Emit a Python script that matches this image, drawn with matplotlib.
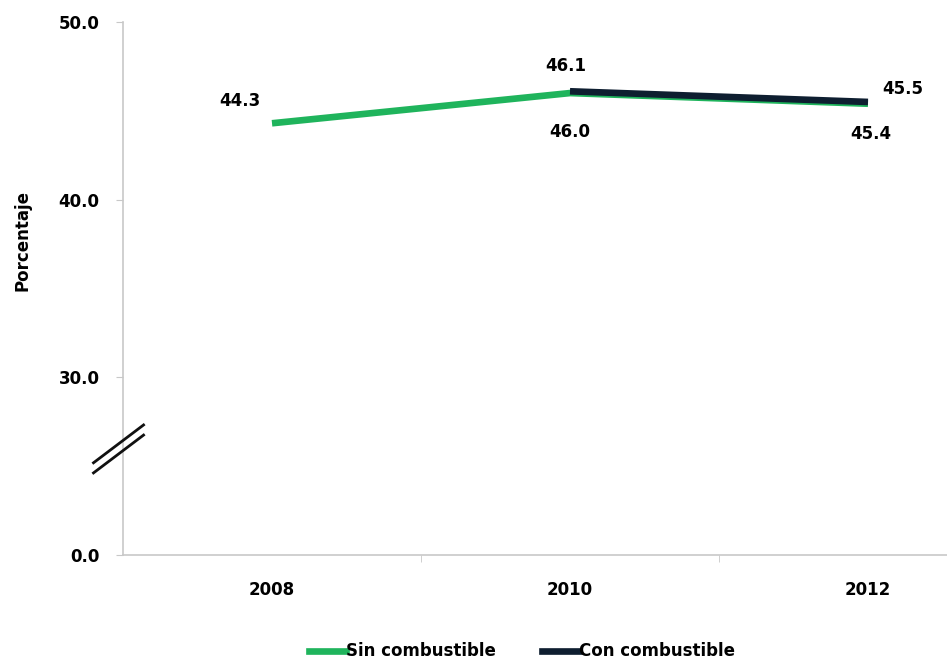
import matplotlib
matplotlib.use("Agg")
import matplotlib.pyplot as plt
from matplotlib.lines import Line2D

# Porcentaje por año, con y sin combustible
years = ["2008", "2010", "2012"]
sin_comb = [44.3, 46.0, 45.4]
con_years = ["2010", "2012"]
con_comb = [46.1, 45.5]

# El eje vertical está cortado: "0.0" se dibuja en la posición de 20
ytick_vals = [20, 30, 40, 50]
ytick_labels = ["0.0", "30.0", "40.0", "50.0"]

green = "#1fb45c"
navy = "#0e1e30"
axis_gray = "#c8c8c8"
fs = 12

plt.rcParams["font.family"] = "DejaVu Sans"
plt.rcParams["font.weight"] = "bold"

fig = plt.figure(figsize=(9.47, 6.6), dpi=100)
ax = fig.add_axes([123 / 947, 1 - 555 / 660, (1017 - 123) / 947, (555 - 22) / 660])

xs = list(range(len(years)))
x_con = [years.index(y) for y in con_years]

ax.plot(xs, sin_comb, color=green, lw=4.8, solid_capstyle="butt", zorder=3)
ax.plot(x_con, con_comb, color=navy, lw=4.8, solid_capstyle="butt", zorder=4)

ax.set_xlim(-0.5, 2.5)
ax.set_ylim(20, 50)

ax.set_xticks(xs)
ax.set_xticklabels(years, fontsize=fs, fontweight="bold")
ax.set_xticks([0.5, 1.5], minor=True)
ax.tick_params(axis="x", which="major", length=0, pad=19)
ax.tick_params(axis="x", which="minor", length=5, color=axis_gray, direction="out")

ax.set_yticks(ytick_vals)
ax.set_yticklabels(ytick_labels, fontsize=fs, fontweight="bold")
ax.tick_params(axis="y", length=5, color=axis_gray, direction="out", pad=12)

for side in ["top", "right"]:
    ax.spines[side].set_visible(False)
for side in ["left", "bottom"]:
    ax.spines[side].set_color(axis_gray)
    ax.spines[side].set_linewidth(1.2)

ax.set_ylabel("Porcentaje", fontsize=fs, fontweight="bold")
ax.yaxis.set_label_coords(-0.102, 0.59)

# Etiquetas de valores
def label(x, y, dx, dy):
    ax.annotate(f"{y:.1f}", (x, y), xytext=(dx, dy), textcoords="offset points",
                ha="center", va="center", fontsize=fs, fontweight="bold")

label(0, sin_comb[0], -23, 16)
label(1, sin_comb[1], 0, -28)
label(2, sin_comb[2], 2, -22)
label(x_con[0], con_comb[0], -3, 18)
label(x_con[1], con_comb[1], 25, 9)

# Marcas de corte del eje
for dy in (0.0, 0.019):
    ax.plot([-0.033, 0.023], [0.173 - dy, 0.244 - dy], transform=ax.transAxes,
            color="#111111", lw=2.0, clip_on=False, zorder=5)

handles = [Line2D([], [], color=green, lw=4.8), Line2D([], [], color=navy, lw=4.8)]
fig.legend(handles, ["Sin combustible", "Con combustible"], loc="center",
           bbox_to_anchor=(0.551, 0.013), ncol=2, frameon=False, fontsize=fs,
           handlelength=2.2, handletextpad=0.0, columnspacing=2.8)

fig.savefig("out.png", dpi=100, facecolor="white")
